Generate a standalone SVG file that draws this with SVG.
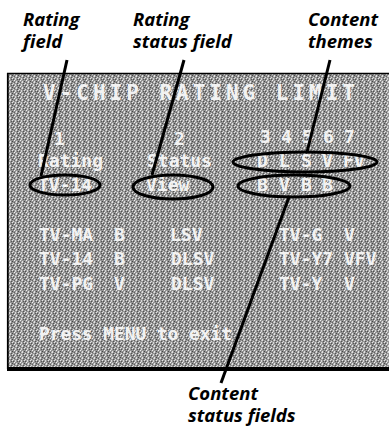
<svg xmlns="http://www.w3.org/2000/svg" width="389" height="430" viewBox="0 0 389 430">
<defs>
<pattern id="noise" width="6" height="6" patternUnits="userSpaceOnUse">
<rect width="6" height="6" fill="#939393"/>
<rect x="0" y="0" width="1" height="1" fill="#e6e6e6"/>
<rect x="3" y="0" width="1" height="2" fill="#d8d8d8"/>
<rect x="1" y="1" width="1" height="1" fill="#505050"/>
<rect x="5" y="1" width="1" height="1" fill="#5a5a5a"/>
<rect x="2" y="2" width="1" height="1" fill="#f0f0f0"/>
<rect x="4" y="3" width="1" height="2" fill="#e2e2e2"/>
<rect x="0" y="3" width="1" height="1" fill="#484848"/>
<rect x="2" y="4" width="1" height="1" fill="#606060"/>
<rect x="1" y="5" width="1" height="1" fill="#dcdcdc"/>
<rect x="5" y="5" width="1" height="1" fill="#545454"/>
<rect x="3" y="4" width="1" height="1" fill="#bdbdbd"/>
</pattern>
<style>
.lbl{font-family:"Open Sans","Liberation Sans",sans-serif;font-weight:700;font-style:italic;font-size:18.5px;fill:#000}
.scr{font-family:"DejaVu Sans Mono","Liberation Mono",monospace;font-weight:700;font-size:18px;fill:#f2f2f2}
.ttl{font-size:21px}
.ring{fill:none;stroke:#000;stroke-width:3}
.lead{stroke:#000;stroke-width:3;fill:none;stroke-linecap:butt}
</style>
</defs>
<g id="screen">
<rect x="7" y="73" width="384" height="296" fill="url(#noise)"/>
<line x1="7" y1="73.5" x2="389" y2="73.5" stroke="#000" stroke-width="1.5"/>
<line x1="7.8" y1="73" x2="7.8" y2="369" stroke="#000" stroke-width="1.8"/>
<line x1="7" y1="369" x2="389" y2="369" stroke="#000" stroke-width="4"/>
<text class="scr ttl" x="43" y="100" textLength="312" lengthAdjust="spacing">V-CHIP RATING LIMIT</text>
<text class="scr" x="54" y="145">1</text>
<text class="scr" x="174" y="145">2</text>
<text class="scr" x="260" y="143">3</text>
<text class="scr" x="281" y="143">4</text>
<text class="scr" x="302" y="143">5</text>
<text class="scr" x="323" y="143">6</text>
<text class="scr" x="344" y="143">7</text>
<text class="scr" x="38" y="167">Rating</text>
<text class="scr" x="147" y="167">Status</text>
<text class="scr" x="257" y="167">D</text>
<text class="scr" x="279" y="167">L</text>
<text class="scr" x="301" y="167">S</text>
<text class="scr" x="322" y="167">V</text>
<text class="scr" x="343" y="167">FV</text>
<text class="scr" x="38" y="191">TV-14</text>
<text class="scr" x="146" y="191">View</text>
<text class="scr" x="257" y="191">B</text>
<text class="scr" x="279" y="191">V</text>
<text class="scr" x="301" y="191">B</text>
<text class="scr" x="322" y="191">B</text>
<text class="scr" x="39" y="241">TV-MA</text>
<text class="scr" x="114" y="241">B</text>
<text class="scr" x="170" y="241">LSV</text>
<text class="scr" x="279" y="241">TV-G</text>
<text class="scr" x="344" y="241">V</text>
<text class="scr" x="39" y="265">TV-14</text>
<text class="scr" x="114" y="265">B</text>
<text class="scr" x="171" y="265">DLSV</text>
<text class="scr" x="279" y="265">TV-Y7</text>
<text class="scr" x="344" y="265">VFV</text>
<text class="scr" x="39" y="290">TV-PG</text>
<text class="scr" x="114" y="290">V</text>
<text class="scr" x="171" y="290">DLSV</text>
<text class="scr" x="279" y="290">TV-Y</text>
<text class="scr" x="344" y="290">V</text>
<text class="scr" x="39" y="340" textLength="193" lengthAdjust="spacing">Press MENU to exit</text>
</g>
<g id="rating-field">
<ellipse class="ring" cx="65" cy="185" rx="35" ry="10"/>
<text class="lbl" x="23" y="26">Rating</text>
<text class="lbl" x="23" y="48">field</text>
</g>
<g id="rating-status-field">
<ellipse class="ring" cx="173" cy="187" rx="40" ry="12"/>
<text class="lbl" x="133" y="26">Rating</text>
<text class="lbl" x="133" y="48">status field</text>
</g>
<g id="content-themes">
<ellipse class="ring" cx="305" cy="162" rx="72" ry="10"/>
<text class="lbl" x="308" y="26">Content</text>
<text class="lbl" x="308" y="48">themes</text>
</g>
<g id="content-status-fields">
<ellipse class="ring" cx="294" cy="186" rx="56" ry="11"/>
<text class="lbl" x="188" y="400">Content</text>
<text class="lbl" x="188" y="422">status fields</text>
</g>
<g id="connectors">
<line class="lead" x1="67" y1="60" x2="41" y2="176"/>
<line class="lead" x1="184" y1="60" x2="152" y2="175"/>
<line class="lead" x1="330" y1="60" x2="307" y2="152"/>
<line class="lead" x1="289" y1="197" x2="221" y2="383" stroke-width="3.5"/>
</g>
</svg>
